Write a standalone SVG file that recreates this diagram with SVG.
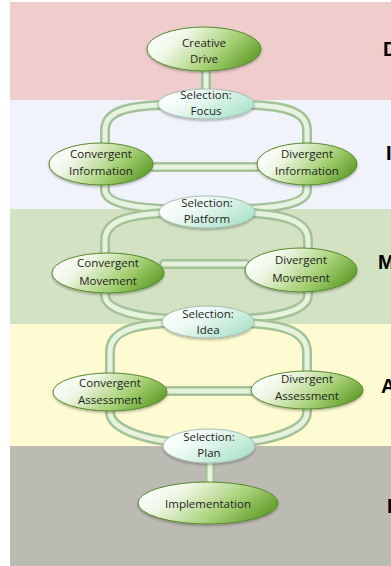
<svg xmlns="http://www.w3.org/2000/svg" width="391" height="566" viewBox="0 0 391 566">
<defs>
<linearGradient id="gMain" x1="0" y1="0.3" x2="1" y2="0.7">
<stop offset="0" stop-color="#ffffff"/>
<stop offset="0.25" stop-color="#eef6e4"/>
<stop offset="0.65" stop-color="#a6d074"/>
<stop offset="1" stop-color="#5c9a26"/>
</linearGradient>
<linearGradient id="gSel" x1="0" y1="0.2" x2="1" y2="0.8">
<stop offset="0" stop-color="#ffffff"/>
<stop offset="0.35" stop-color="#eefaf4"/>
<stop offset="1" stop-color="#a6e0c6"/>
</linearGradient>
<filter id="sh" x="-20%" y="-20%" width="140%" height="150%">
<feDropShadow dx="0" dy="1.5" stdDeviation="1.2" flood-color="#000" flood-opacity="0.3"/>
</filter>
</defs>
<style>
.tO{fill:none;stroke:#a3c297;stroke-width:10;stroke-linecap:round}
.tI{fill:none;stroke:#e6f3df;stroke-width:5;stroke-linecap:round}
.main{fill:url(#gMain);stroke:#568a2c;stroke-width:1;filter:url(#sh)}
.sel{fill:url(#gSel);stroke:#a7bfb4;stroke-width:1;filter:url(#sh)}
.t{font-family:"Open Sans","Noto Sans","Liberation Sans",sans-serif;font-size:11.5px;fill:#1e1e1e;text-anchor:middle}
.big{font-family:"Liberation Sans",Arial,sans-serif;font-size:20px;font-weight:bold;fill:#000}
</style>

<g id="bands">
<rect x="10" y="2" width="381" height="98" fill="#f0cdcd"/>
<rect x="10" y="100" width="381" height="109" fill="#f0f3f9"/>
<rect x="10" y="209" width="381" height="115" fill="#d2e2c3"/>
<rect x="10" y="324" width="381" height="122" fill="#fefbd3"/>
<rect x="10" y="446" width="381" height="120" fill="#bcbbb3"/>
</g>

<g id="stage-labels">
<text class="big" x="383" y="56">D</text>
<text class="big" x="386" y="160">I</text>
<text class="big" x="378" y="269">M</text>
<text class="big" x="381" y="393">A</text>
<text class="big" x="387" y="513">I</text>
</g>

<g id="connectors">
<path class="tO" d="M206 71 L206 92"/>
<path class="tI" d="M206 71 L206 92"/>
<path class="tO" d="M206 104 C140 104 105 106 105 130 L105 190 C105 205 140 210 206 210 C272 210 307 205 307 190 L307 130 C307 106 272 104 206 104 Z"/>
<path class="tI" d="M206 104 C140 104 105 106 105 130 L105 190 C105 205 140 210 206 210 C272 210 307 205 307 190 L307 130 C307 106 272 104 206 104 Z"/>
<path class="tO" d="M153 167 L257 167"/>
<path class="tI" d="M153 167 L257 167"/>
<path class="tO" d="M207 212 C140 212 105 216 105 240 L105 295 C105 312 145 320 208 320 C272 320 308 312 308 295 L308 240 C308 216 272 212 207 212 Z"/>
<path class="tI" d="M207 212 C140 212 105 216 105 240 L105 295 C105 312 145 320 208 320 C272 320 308 312 308 295 L308 240 C308 216 272 212 207 212 Z"/>
<path class="tO" d="M164 264 L246 264"/>
<path class="tI" d="M164 264 L246 264"/>
<path class="tO" d="M208 322 C145 322 110 326 110 352 L110 412 C110 430 150 444 209 444 C270 444 307 430 307 412 L307 352 C307 326 270 322 208 322 Z"/>
<path class="tI" d="M208 322 C145 322 110 326 110 352 L110 412 C110 430 150 444 209 444 C270 444 307 430 307 412 L307 352 C307 326 270 322 208 322 Z"/>
<path class="tO" d="M167 391 L252 391"/>
<path class="tI" d="M167 391 L252 391"/>
<path class="tO" d="M210 460 L210 484"/>
<path class="tI" d="M210 460 L210 484"/>
</g>

<g id="creative-drive">
<ellipse class="main" cx="204" cy="49" rx="57" ry="22"/>
<text class="t" x="204" y="47">Creative</text>
<text class="t" x="204" y="63">Drive</text>
</g>
<g id="selection-focus">
<ellipse class="sel" cx="206" cy="104" rx="48" ry="15"/>
<text class="t" x="206" y="99">Selection:</text>
<text class="t" x="206" y="115">Focus</text>
</g>
<g id="convergent-information">
<ellipse class="main" cx="101" cy="164" rx="52" ry="21"/>
<text class="t" x="101" y="158">Convergent</text>
<text class="t" x="101" y="175">Information</text>
</g>
<g id="divergent-information">
<ellipse class="main" cx="307" cy="164" rx="50" ry="21"/>
<text class="t" x="307" y="158">Divergent</text>
<text class="t" x="307" y="175">Information</text>
</g>
<g id="selection-platform">
<ellipse class="sel" cx="207" cy="212" rx="48" ry="16"/>
<text class="t" x="207" y="207">Selection:</text>
<text class="t" x="207" y="223">Platform</text>
</g>
<g id="convergent-movement">
<ellipse class="main" cx="108" cy="273" rx="56" ry="20"/>
<text class="t" x="108" y="267">Convergent</text>
<text class="t" x="108" y="285">Movement</text>
</g>
<g id="divergent-movement">
<ellipse class="main" cx="301" cy="270" rx="56" ry="22"/>
<text class="t" x="301" y="264">Divergent</text>
<text class="t" x="301" y="282">Movement</text>
</g>
<g id="selection-idea">
<ellipse class="sel" cx="208" cy="322" rx="46" ry="16"/>
<text class="t" x="208" y="318">Selection:</text>
<text class="t" x="208" y="334">Idea</text>
</g>
<g id="convergent-assessment">
<ellipse class="main" cx="110" cy="392" rx="57" ry="19"/>
<text class="t" x="110" y="387">Convergent</text>
<text class="t" x="110" y="404">Assessment</text>
</g>
<g id="divergent-assessment">
<ellipse class="main" cx="307" cy="390" rx="56" ry="19"/>
<text class="t" x="307" y="383">Divergent</text>
<text class="t" x="307" y="400">Assessment</text>
</g>
<g id="selection-plan">
<ellipse class="sel" cx="209" cy="446" rx="46" ry="17"/>
<text class="t" x="209" y="441">Selection:</text>
<text class="t" x="209" y="457">Plan</text>
</g>
<g id="implementation">
<ellipse class="main" cx="208" cy="503" rx="70" ry="21"/>
<text class="t" x="208" y="508">Implementation</text>
</g>
</svg>
